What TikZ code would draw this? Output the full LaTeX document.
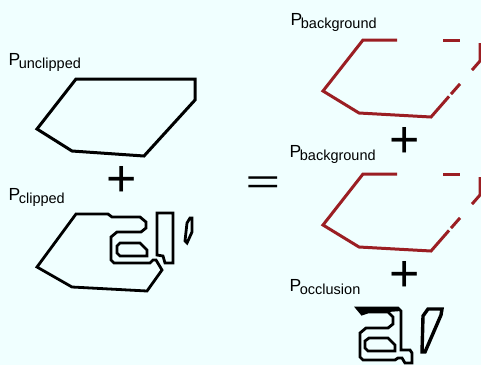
\documentclass[tikz,border=0pt]{standalone}
\usepackage{fontspec}
\setmainfont{Liberation Sans}
\definecolor{bgc}{RGB}{240,255,255}
\definecolor{redc}{RGB}{155,30,35}
\newcommand\plab[1]{{\fontsize{17.5}{18}\selectfont P}\kern-1.5pt\raisebox{-3pt}{\fontsize{14.5}{15}\selectfont #1}}
\tikzset{
  poly/.style={draw=black, line width=3pt},
  clip outline/.style={draw=black, line width=2.8pt},
  redpoly/.style={draw=redc, line width=3pt},
  glyph/.style={draw=black, line width=2.8pt},
  lab/.style={anchor=base west, inner sep=0pt},
  plusop/.style={inner sep=0pt, font=\fontsize{52}{52}\selectfont},
  eqop/.style={inner sep=0pt, font=\fontsize{34}{34}\selectfont},
}
\begin{document}
\begin{tikzpicture}[x=1pt,y=-1pt]
\fill[bgc] (0,0) rectangle (481,365);
\useasboundingbox (0,0) rectangle (481,365);

% labels
\node[lab] (lunclip) at (8.5,65) {\plab{unclipped}};
\node[lab] (lclip) at (8.5,200) {\plab{clipped}};
\node[lab] (lbg1) at (290.5,25) {\plab{background}};
\node[lab] (lbg2) at (289.5,157) {\plab{background}};
\node[lab] (locc) at (289.5,291) {\plab{occlusion}};

% operators
\node[plusop] (plus1) at (122,181) {+};
\node[plusop] (plus2) at (405,142) {+};
\node[plusop] (plus3) at (405,276) {+};
\node[eqop] (eq) at (263,185) {\scalebox{1.74}[1]{=}};

% unclipped polygon
\draw[poly] (76,79) -- (195,79) -- (195,100) -- (144,156) -- (72,151) -- (37,129) -- cycle;

% clipped polygon
\draw[clip outline] (76,214) -- (108,214) -- (112,217) -- (140,217) -- (146,222) -- (146,228)
  -- (141,232) -- (117,232) -- (111,237) -- (111,260) -- (114,263) -- (150,263) -- (153,260)
  -- (156,260) -- (162,270) -- (147,291) -- (72,287) -- (37,267) -- cycle;
\draw[clip outline] (120,243) -- (140,243) -- (147,250) -- (147,256) -- (120,256) -- (117,253) -- (117,246) -- cycle;
\draw[clip outline] (157,213) -- (173,213) -- (173,263) -- (165,263) -- (163,256) -- (157,255) -- cycle;
\draw[clip outline] (185,241) -- (187,223) -- (190,218) -- (192,218) -- (192,232) -- (187,243) -- cycle;

% background polygons (two copies)
\foreach \dy in {0,134}{
  \begin{scope}[yshift=-\dy pt]
    \draw[redpoly] (397,40) -- (363,40) -- (323,91) -- (359,113) -- (431,117) -- (449,96.4);
    \draw[redpoly] (451,94.1) -- (460,83.9);
    \draw[redpoly] (443,40) -- (460,40);
    \draw[redpoly] (480,43) -- (480,61) -- (472,70.1);
  \end{scope}
}

% occlusion glyphs
\fill[black] (357,308) -- (398,308) -- (401,311) -- (388,312) -- (368,312) -- (362,314) -- cycle;
\draw[glyph] (357,308) -- (398,308) -- (401,311) -- (401,350) -- (410,350) -- (412,353) -- (412,363)
  -- (405,363) -- (402,358) -- (398,358) -- (395,360) -- (363,360) -- (360,357) -- (360,333)
  -- (366,328) -- (388,328) -- (393,324) -- (393,317) -- (388,312) -- (368,312) -- (362,314) -- cycle;
\draw[glyph] (369,338) -- (388,338) -- (395,345) -- (395,351) -- (368,351) -- (365,348) -- (365,341) -- cycle;
\draw[glyph, line width=3.4pt] (423,316) -- (428,309) -- (442,309) -- (441,315) -- (425,352) -- (422,352) -- cycle;
\end{tikzpicture}
\end{document}
